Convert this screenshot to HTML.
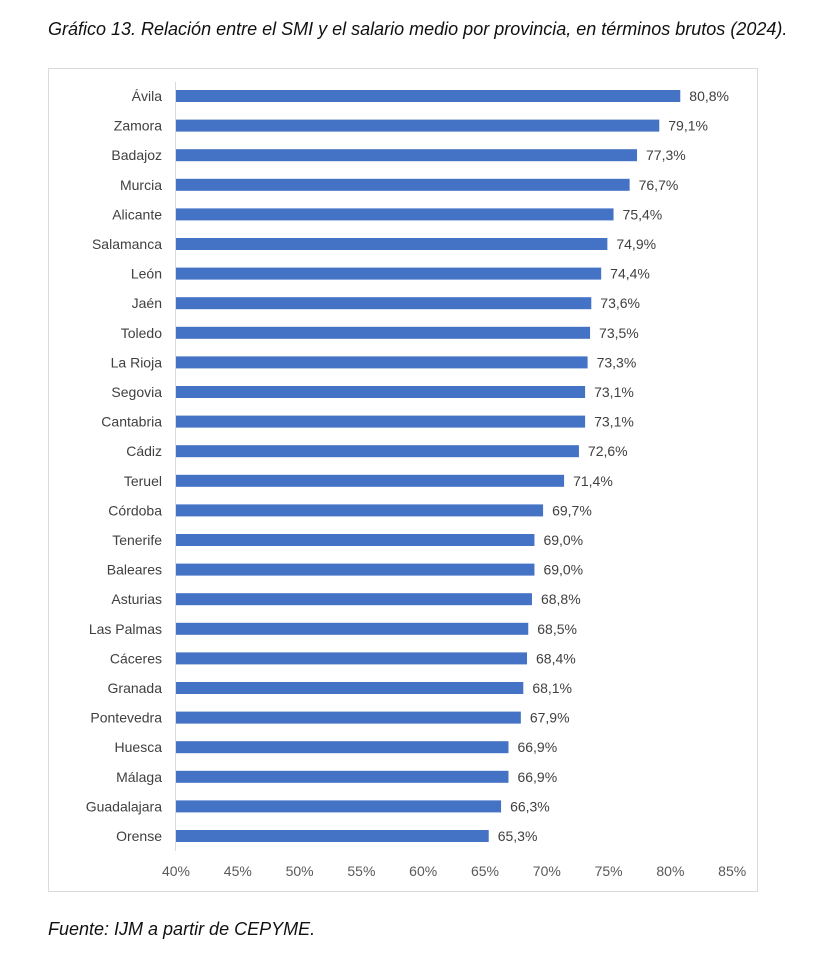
<!DOCTYPE html>
<html><head><meta charset="utf-8"><style>
body{margin:0;background:#fff;width:815px;height:957px;overflow:hidden;font-family:"Liberation Sans",sans-serif}
#title{position:absolute;left:48px;top:19px;font-size:18px;font-style:italic;color:#111;white-space:nowrap}
#foot{position:absolute;left:48px;top:919px;font-size:18px;font-style:italic;color:#111}
svg{position:absolute;left:0;top:0}
</style></head><body>
<div id="title">Gráfico 13. Relación entre el SMI y el salario medio por provincia, en términos brutos (2024).</div>
<svg id="chart" width="815" height="957">
<rect x="48.5" y="68.5" width="709" height="823" fill="#fff" stroke="#d9d9d9"/>
</svg>
<div id="foot">Fuente: IJM a partir de CEPYME.</div>
<script>
const categories=["Ávila","Zamora","Badajoz","Murcia","Alicante","Salamanca","León","Jaén","Toledo","La Rioja","Segovia","Cantabria","Cádiz","Teruel","Córdoba","Tenerife","Baleares","Asturias","Las Palmas","Cáceres","Granada","Pontevedra","Huesca","Málaga","Guadalajara","Orense"];
const values=[80.8,79.1,77.3,76.7,75.4,74.9,74.4,73.6,73.5,73.3,73.1,73.1,72.6,71.4,69.7,69.0,69.0,68.8,68.5,68.4,68.1,67.9,66.9,66.9,66.3,65.3];
const ticks=[40,45,50,55,60,65,70,75,80,85];
const svg=document.getElementById('chart');const NS='http://www.w3.org/2000/svg';
const x=v=>176+(v-40)*12.36;
const y=i=>96+i*29.6;
function mk(t,a,txt){const e=document.createElementNS(NS,t);for(const k in a)e.setAttribute(k,a[k]);if(txt!=null)e.textContent=txt;svg.appendChild(e);return e;}
const ax=mk('line',{x1:175.5,x2:175.5,y1:82,y2:851,stroke:'#d9d9d9'});


categories.forEach((c,i)=>{
 const b=mk('rect',{x:176,y:y(i)-6,width:x(values[i])-176,height:12,fill:'#4472c4'});
 
 
 const l=mk('text',{x:162,y:y(i)+5,'text-anchor':'end','font-size':14,fill:'#404040'},c);
 
 
 const v=mk('text',{x:x(values[i])+9,y:y(i)+5,'font-size':14,fill:'#404040'},values[i].toFixed(1).replace('.',',')+'%');
 
 
});
ticks.forEach(t=>{
 const e=mk('text',{x:x(t),y:876,'text-anchor':'middle','font-size':14,fill:'#595959'},t+'%');
 
 
});
</script>
</body></html>
